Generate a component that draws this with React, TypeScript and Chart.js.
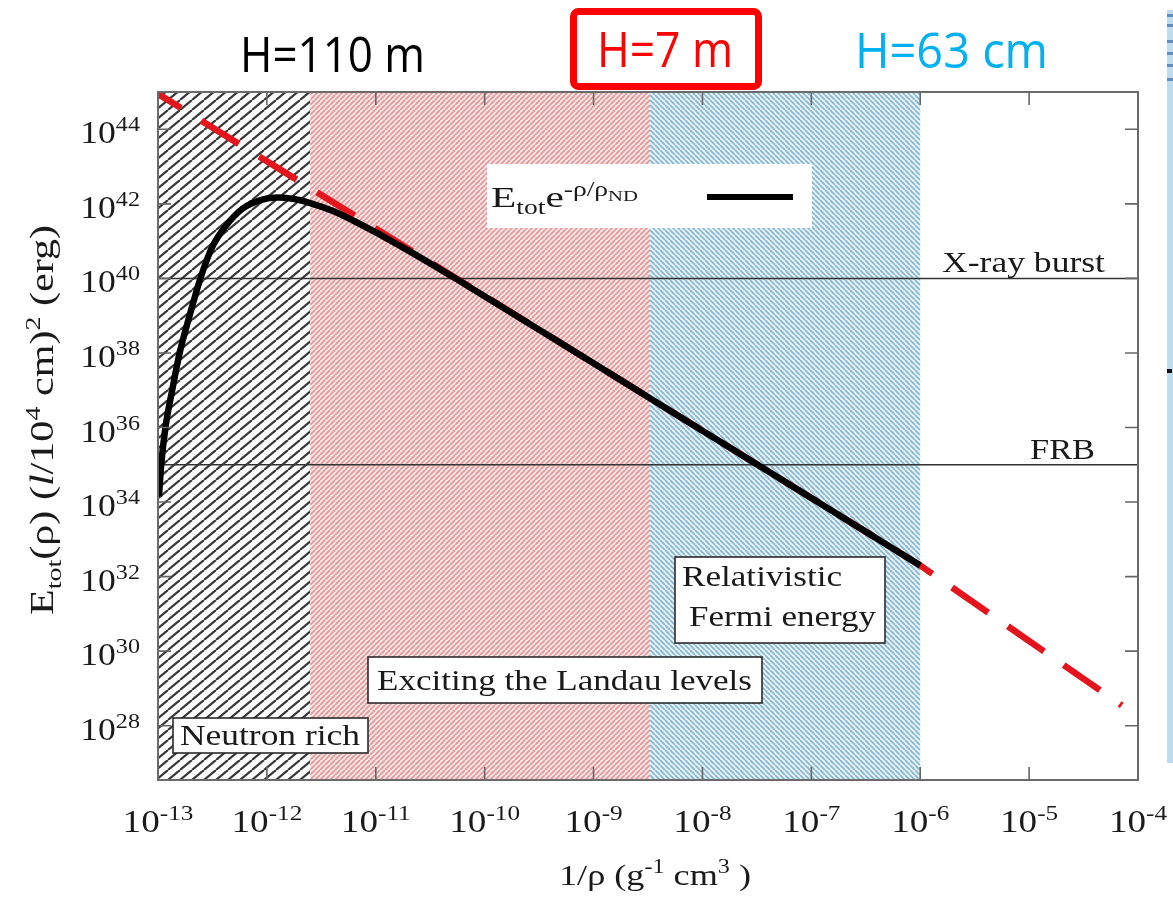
import { useEffect, useRef } from 'react';
import { Chart, registerables } from 'chart.js';

Chart.register(...registerables);

const CANVAS_W = 1173;
const CANVAS_H = 903;

// E_tot e^{-rho/rho_ND}: total energy with the neutron-drip suppression
const curveX = [
  1.02e-13, 1.07e-13, 1.17e-13, 1.35e-13, 1.58e-13, 1.95e-13, 2.45e-13, 3.16e-13,
  4.17e-13, 6.0e-13, 8.9e-13, 1.26e-12, 1.78e-12, 2.5e-12, 4.0e-12, 6.3e-12,
  1.0e-11, 1.58e-11, 2.5e-11, 5.6e-11, 1e-9, 1e-8, 1e-7, 1e-6,
];
const curveY = [
  1.4e34, 1.0e35, 1.0e36, 1.0e37, 1.0e38, 1.0e39, 1.0e40, 7.1e40,
  2.5e41, 7.5e41, 1.28e42, 1.48e42, 1.35e42, 1.05e42, 6.5e41, 3.47e41,
  1.72e41, 8.1e40, 3.78e40, 9.3e39, 5.27e37, 8.21e35, 1.28e34, 2.0e32,
];

// Bare power law E_tot (red dashed)
const powerLawX = [1e-13, 1e-6, 7.1e-5];
const powerLawY = [8.9e44, 2.0e32, 3.5e28];

// Reference energies
const referenceLevels = [1e40, 1e35];
const referenceNames = ['X-ray burst', 'FRB'];

// Axis decades
const xTickExponents = ['-13', '-12', '-11', '-10', '-9', '-8', '-7', '-6', '-5', '-4'];
const yTickExponents = ['28', '30', '32', '34', '36', '38', '40', '42', '44'];

// Regimes: neutron rich | Landau levels | relativistic Fermi energy
const regionEdges = [1e-13, 2.5e-12, 3.3e-9, 1e-6];

const headerTexts = ['H=110 m', 'H=7 m', 'H=63 cm'];

const SERIF = '"Liberation Serif", "Times New Roman", serif';
const HAND = '"Open Sans", "DejaVu Sans", sans-serif';

type Run = { t: string; size: number; dy?: number; italic?: boolean };

function runFont(r: Run, family: string) {
  return `${r.italic ? 'italic ' : ''}${r.size}px ${family}`;
}

function runsWidth(ctx: CanvasRenderingContext2D, runs: Run[], family: string) {
  let w = 0;
  for (const r of runs) {
    ctx.font = runFont(r, family);
    w += ctx.measureText(r.t).width;
  }
  return w;
}

function drawRuns(
  ctx: CanvasRenderingContext2D,
  runs: Run[],
  x: number,
  y: number,
  o: { align?: 'left' | 'center' | 'right'; width?: number; sx?: number; sy?: number; color?: string; family?: string; rotate?: number }
) {
  const family = o.family || SERIF;
  const natural = runsWidth(ctx, runs, family);
  const sx = o.width ? o.width / natural : o.sx || 1;
  ctx.save();
  ctx.translate(x, y);
  if (o.rotate) ctx.rotate(o.rotate);
  ctx.scale(sx, o.sy || 1);
  ctx.fillStyle = o.color || '#1a1a1a';
  ctx.textBaseline = 'alphabetic';
  ctx.textAlign = 'left';
  let cx = o.align === 'center' ? -natural / 2 : o.align === 'right' ? -natural : 0;
  for (const r of runs) {
    ctx.font = runFont(r, family);
    ctx.fillText(r.t, cx, r.dy || 0);
    cx += ctx.measureText(r.t).width;
  }
  ctx.restore();
}

function hatch(ctx: CanvasRenderingContext2D, w: number, h: number, bg: string, fg: string, lw: number, forward: boolean) {
  const c = document.createElement('canvas');
  c.width = w;
  c.height = h;
  const g = c.getContext('2d')!;
  g.fillStyle = bg;
  g.fillRect(0, 0, w, h);
  g.strokeStyle = fg;
  g.lineWidth = lw;
  g.beginPath();
  for (let k = -1; k <= 1; k++) {
    if (forward) {
      g.moveTo(k * w, h);
      g.lineTo(k * w + w, 0);
    } else {
      g.moveTo(k * w, 0);
      g.lineTo(k * w + w, h);
    }
  }
  g.stroke();
  return ctx.createPattern(c, 'repeat') as CanvasPattern;
}

function labelBox(ctx: CanvasRenderingContext2D, x0: number, y0: number, x1: number, y1: number) {
  ctx.save();
  ctx.fillStyle = '#ffffff';
  ctx.fillRect(x0, y0, x1 - x0, y1 - y0);
  ctx.strokeStyle = '#2a2a2a';
  ctx.lineWidth = 1.6;
  ctx.strokeRect(x0, y0, x1 - x0, y1 - y0);
  ctx.restore();
}

const backdrop = {
  id: 'backdrop',
  beforeDatasetsDraw(chart: any) {
    const { ctx, chartArea: a, scales } = chart;
    const xs = scales.x;
    ctx.save();
    ctx.fillStyle = '#ffffff';
    ctx.fillRect(a.left, a.top, a.right - a.left, a.bottom - a.top);
    const fills = [
      hatch(ctx, 12, 10, '#ffffff', '#3a3a3a', 2.2, true),
      hatch(ctx, 5, 5, '#f8e6e6', '#e39797', 1.7, true),
      hatch(ctx, 5, 5, '#e9f3f9', '#86b6d3', 1.7, false),
    ];
    for (let i = 0; i < fills.length; i++) {
      const x0 = xs.getPixelForValue(regionEdges[i]);
      const x1 = xs.getPixelForValue(regionEdges[i + 1]);
      ctx.fillStyle = fills[i];
      ctx.fillRect(x0, a.top, x1 - x0, a.bottom - a.top);
    }
    // legend panel
    ctx.fillStyle = '#ffffff';
    ctx.fillRect(487, 164, 325, 64);
    drawRuns(
      ctx,
      [
        { t: 'E', size: 30 },
        { t: 'tot', size: 20, dy: 7 },
        { t: 'e', size: 30 },
        { t: '-ρ/ρ', size: 20, dy: -11 },
        { t: 'ND', size: 15, dy: -6 },
      ],
      491,
      207,
      { width: 147 }
    );
    ctx.strokeStyle = '#000000';
    ctx.lineWidth = 6;
    ctx.beginPath();
    ctx.moveTo(707, 197);
    ctx.lineTo(793, 197);
    ctx.stroke();
    ctx.restore();
  },
};

const annotations = {
  id: 'annotations',
  afterDatasetsDraw(chart: any) {
    const { ctx, scales } = chart;
    const ys = scales.y;
    ctx.save();
    // reference line captions
    const capX = [942, 1030];
    const capW = [163, 65];
    referenceLevels.forEach((lv, i) => {
      drawRuns(ctx, [{ t: referenceNames[i], size: 30 }], capX[i], ys.getPixelForValue(lv) - 6, { width: capW[i] });
    });
    // regime boxes
    labelBox(ctx, 173, 718, 368, 753);
    drawRuns(ctx, [{ t: 'Neutron rich', size: 30 }], 180, 745, { width: 180 });
    labelBox(ctx, 368, 657, 762, 703);
    drawRuns(ctx, [{ t: 'Exciting the Landau levels', size: 30 }], 377, 690, { width: 375 });
    labelBox(ctx, 675, 557, 885, 643);
    drawRuns(ctx, [{ t: 'Relativistic', size: 30 }], 682, 586, { width: 160 });
    drawRuns(ctx, [{ t: 'Fermi energy', size: 30 }], 689, 626, { width: 187 });
    ctx.restore();
  },
};

const frame = {
  id: 'frame',
  afterDraw(chart: any) {
    const { ctx, chartArea: a, scales } = chart;
    const xs = scales.x;
    const ys = scales.y;
    ctx.save();
    ctx.strokeStyle = '#666666';
    ctx.lineWidth = 1.6;
    const tick = 13;
    ctx.beginPath();
    xTickExponents.forEach((e) => {
      const px = xs.getPixelForValue(Number('1e' + e));
      ctx.moveTo(px, a.bottom);
      ctx.lineTo(px, a.bottom - tick);
      ctx.moveTo(px, a.top);
      ctx.lineTo(px, a.top + tick);
    });
    yTickExponents.forEach((e) => {
      const py = ys.getPixelForValue(Number('1e' + e));
      ctx.moveTo(a.left, py);
      ctx.lineTo(a.left + tick, py);
      ctx.moveTo(a.right, py);
      ctx.lineTo(a.right - tick, py);
    });
    ctx.stroke();
    ctx.strokeStyle = '#6a6a6a';
    ctx.lineWidth = 2;
    ctx.strokeRect(a.left, a.top, a.right - a.left, a.bottom - a.top);

    // tick labels
    xTickExponents.forEach((e) => {
      const px = xs.getPixelForValue(Number('1e' + e));
      drawRuns(ctx, [{ t: '10', size: 31 }, { t: e, size: 21, dy: -12 }], px, 832, { align: 'center', sx: 1.2 });
    });
    yTickExponents.forEach((e) => {
      const py = ys.getPixelForValue(Number('1e' + e));
      drawRuns(ctx, [{ t: '10', size: 31 }, { t: e, size: 21, dy: -12 }], 140, py + 14, { align: 'right', sx: 1.15 });
    });

    // axis titles
    drawRuns(
      ctx,
      [
        { t: '1/ρ (g', size: 30 },
        { t: '-1', size: 20, dy: -12 },
        { t: ' cm', size: 30 },
        { t: '3', size: 20, dy: -12 },
        { t: ' )', size: 30 },
      ],
      655,
      885,
      { align: 'center', width: 192 }
    );
    drawRuns(
      ctx,
      [
        { t: 'E', size: 30 },
        { t: 'tot', size: 20, dy: 7 },
        { t: '(ρ) (', size: 30 },
        { t: 'l', size: 30, italic: true },
        { t: '/10', size: 30 },
        { t: '4', size: 20, dy: -12 },
        { t: ' cm)', size: 30 },
        { t: '2', size: 20, dy: -12 },
        { t: ' (erg)', size: 30 },
      ],
      53,
      420,
      { align: 'center', width: 390, rotate: -Math.PI / 2, sy: 1.1 }
    );

    // headers above the panel
    drawRuns(ctx, [{ t: headerTexts[0], size: 50 }], 240, 72, { width: 185, color: '#000000', family: HAND });
    ctx.strokeStyle = '#ff0000';
    ctx.lineWidth = 7;
    ctx.beginPath();
    (ctx as any).roundRect(573.5, 11.5, 185, 75, 5);
    ctx.stroke();
    drawRuns(ctx, [{ t: headerTexts[1], size: 50 }], 597, 67, { width: 136, color: '#ff0000', family: HAND });
    drawRuns(ctx, [{ t: headerTexts[2], size: 50 }], 855, 68, { width: 193, color: '#00b0f0', family: HAND });

    // edge of the neighbouring picture on the slide
    ctx.fillStyle = '#bcdcf1';
    ctx.fillRect(1167, 10, 6, 753);
    ctx.fillStyle = '#5f8fbf';
    [14, 24, 40, 52, 64, 78].forEach((yy) => ctx.fillRect(1167, yy, 6, 3));
    ctx.fillStyle = '#111111';
    ctx.fillRect(1167, 369, 5, 4);
    ctx.restore();
  },
};

export default function App() {
  const ref = useRef<HTMLCanvasElement | null>(null);

  useEffect(() => {
    if (!ref.current) return;
    const curve = curveX.map((x, i) => ({ x, y: curveY[i] }));
    const power = powerLawX.map((x, i) => ({ x, y: powerLawY[i] }));
    const refSets = referenceLevels.map((lv) => ({
      data: [
        { x: 1e-13, y: lv },
        { x: 1e-4, y: lv },
      ],
      borderColor: '#333333',
      borderWidth: 1.5,
      pointRadius: 0,
      order: 3,
      clip: 0,
    }));
    const chart = new Chart(ref.current, {
      type: 'line',
      data: {
        datasets: [
          {
            data: curve,
            borderColor: '#000000',
            borderWidth: 6.5,
            pointRadius: 0,
            cubicInterpolationMode: 'monotone',
            borderCapStyle: 'butt',
            order: 1,
            clip: 0,
          },
          {
            data: power,
            borderColor: '#e3141b',
            borderWidth: 6.5,
            borderDash: [44, 24],
            borderDashOffset: 17,
            borderCapStyle: 'butt',
            pointRadius: 0,
            tension: 0,
            order: 2,
            clip: 0,
          },
          ...refSets,
        ] as any,
      },
      options: {
        animation: false,
        responsive: false,
        devicePixelRatio: 1,
        layout: { padding: { left: 158, right: 35, top: 92, bottom: 123 } },
        plugins: { legend: { display: false }, tooltip: { enabled: false }, title: { display: false } },
        scales: {
          x: { type: 'logarithmic', min: 1e-13, max: 1e-4, display: false },
          y: { type: 'logarithmic', min: 3.5e26, max: 1e45, display: false },
        },
      },
      plugins: [backdrop, annotations, frame],
    });
    return () => chart.destroy();
  }, []);

  return (
    <div style={{ position: 'absolute', left: 0, top: 0, width: CANVAS_W, height: CANVAS_H, background: '#ffffff' }}>
      <canvas ref={ref} width={CANVAS_W} height={CANVAS_H} style={{ display: 'block', width: CANVAS_W, height: CANVAS_H }} />
    </div>
  );
}
